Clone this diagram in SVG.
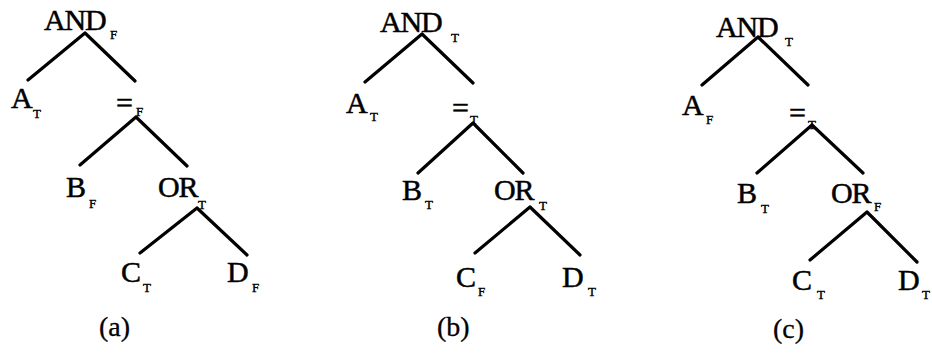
<svg xmlns="http://www.w3.org/2000/svg" width="932" height="353" viewBox="0 0 932 353">
<style>
.m{font-family:"Liberation Serif","Times New Roman",serif;font-size:30px;letter-spacing:-1.2px;fill:#000;stroke:#000;stroke-width:0.5}
.s{font-family:"Liberation Serif","Times New Roman",serif;font-size:13px;fill:#000;stroke:#000;stroke-width:0.4}
.cap{font-family:"Liberation Serif","Times New Roman",serif;font-size:28px;fill:#000;stroke:#000;stroke-width:0.3}
.e{stroke:#000;stroke-width:3.2;stroke-linecap:round;fill:none}
</style>
<rect width="932" height="353" fill="#fff"/>
<g id="connectors">
<path class="e" d="M85 33L28 80M85 33L135 81M136 117L80 165M136 117L187 166M197 208L140 253M197 208L247 255"/>
<path class="e" d="M422 34L365 82M422 34L473 83M473 123L418 173M473 123L523 173M530 207L475 253M530 207L580 255"/>
<path class="e" d="M758 37L702 85M758 37L808 85M812 125L757 173M812 125L863 173M867 212L810 260M867 212L917 262"/>
</g>
<g id="a-and"><text class="m" x="44" y="30">AND</text><text class="s" x="110" y="39">F</text></g>
<g id="a-A"><text class="m" x="11" y="108">A</text><text class="s" x="33" y="118">T</text></g>
<g id="a-eq"><text class="m" x="116" y="113">=</text><text class="s" x="136" y="116">F</text></g>
<g id="a-B"><text class="m" x="66" y="197">B</text><text class="s" x="89" y="208">F</text></g>
<g id="a-or"><text class="m" x="158" y="197">OR</text><text class="s" x="198" y="209">T</text></g>
<g id="a-C"><text class="m" x="121" y="282">C</text><text class="s" x="143" y="292">T</text></g>
<g id="a-D"><text class="m" x="227" y="282">D</text><text class="s" x="252" y="292">F</text></g>
<g id="a-cap"><text class="cap" x="99" y="336">(a)</text></g>

<g id="b-and"><text class="m" x="380" y="32">AND</text><text class="s" x="451" y="42">T</text></g>
<g id="b-A"><text class="m" x="346" y="113">A</text><text class="s" x="370" y="121">T</text></g>
<g id="b-eq"><text class="m" x="452" y="118">=</text><text class="s" x="470" y="124">T</text></g>
<g id="b-B"><text class="m" x="402" y="200">B</text><text class="s" x="425" y="209">T</text></g>
<g id="b-or"><text class="m" x="494" y="200">OR</text><text class="s" x="539" y="210">T</text></g>
<g id="b-C"><text class="m" x="456" y="287">C</text><text class="s" x="478" y="296">F</text></g>
<g id="b-D"><text class="m" x="562" y="287">D</text><text class="s" x="588" y="296">T</text></g>
<g id="b-cap"><text class="cap" x="437" y="336">(b)</text></g>

<g id="c-and"><text class="m" x="716" y="37">AND</text><text class="s" x="785" y="46">T</text></g>
<g id="c-A"><text class="m" x="682" y="115">A</text><text class="s" x="706" y="124">F</text></g>
<g id="c-eq"><text class="m" x="789" y="123">=</text><text class="s" x="808" y="129">T</text></g>
<g id="c-B"><text class="m" x="737" y="203">B</text><text class="s" x="761" y="213">T</text></g>
<g id="c-or"><text class="m" x="831" y="203">OR</text><text class="s" x="874" y="211">F</text></g>
<g id="c-C"><text class="m" x="792" y="290">C</text><text class="s" x="817" y="299">T</text></g>
<g id="c-D"><text class="m" x="898" y="290">D</text><text class="s" x="922" y="299">T</text></g>
<g id="c-cap"><text class="cap" x="773" y="338">(c)</text></g>
</svg>
